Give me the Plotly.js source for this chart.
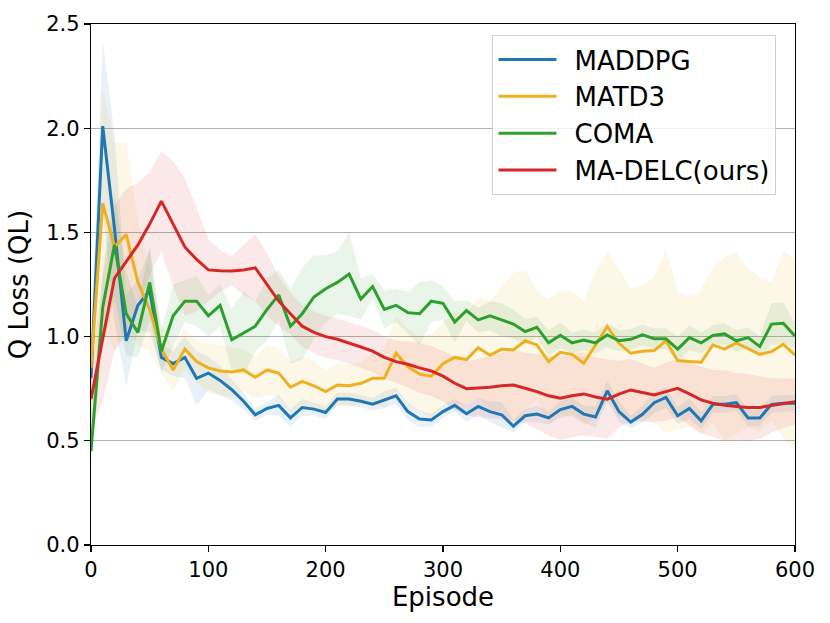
<!DOCTYPE html>
<html>
<head>
<meta charset="utf-8">
<script src="https://cdn.plot.ly/plotly-3.0.1.min.js"></script>
<style>html,body{margin:0;padding:0;background:#fff;} #chart{width:830px;height:623px;}</style>
</head>
<body>
<div id="chart"></div>
<script>
// Episodes (every 10)
const episodes = [0,10,20,30,40,50,60,70,80,90,100,110,120,130,140,150,160,170,180,190,200,210,220,230,240,250,260,270,280,290,300,310,320,330,340,350,360,370,380,390,400,410,420,430,440,450,460,470,480,490,500,510,520,530,540,550,560,570,580,590,600];

const seriesNames = ["MADDPG", "MATD3", "COMA", "MA-DELC(ours)"];

const maddpgMean = [0.80,2.01,1.52,0.98,1.15,1.22,0.90,0.87,0.90,0.80,0.825,0.79,0.745,0.69,0.625,0.655,0.67,0.61,0.66,0.652,0.636,0.70,0.70,0.69,0.676,0.697,0.716,0.64,0.605,0.60,0.64,0.67,0.63,0.665,0.64,0.625,0.57,0.62,0.628,0.61,0.65,0.665,0.628,0.614,0.74,0.64,0.59,0.627,0.683,0.708,0.62,0.655,0.596,0.675,0.675,0.683,0.61,0.61,0.675,0.68,0.68];
const maddpgStd = [0.10,0.41,0.45,0.22,0.12,0.20,0.06,0.06,0.10,0.13,0.08,0.07,0.05,0.04,0.03,0.03,0.05,0.04,0.04,0.03,0.03,0.03,0.03,0.03,0.03,0.04,0.04,0.04,0.04,0.03,0.03,0.03,0.04,0.04,0.05,0.06,0.03,0.03,0.04,0.03,0.04,0.04,0.04,0.05,0.05,0.05,0.03,0.04,0.05,0.05,0.04,0.05,0.04,0.04,0.04,0.04,0.04,0.04,0.04,0.04,0.04];

const matd3Mean = [0.85,1.64,1.43,1.49,1.26,1.13,0.94,0.84,0.94,0.88,0.85,0.835,0.83,0.84,0.805,0.84,0.825,0.757,0.785,0.764,0.736,0.768,0.764,0.776,0.80,0.80,0.92,0.856,0.82,0.81,0.87,0.90,0.89,0.947,0.91,0.94,0.936,0.98,0.96,0.88,0.925,0.915,0.872,0.963,1.048,0.968,0.92,0.93,0.933,0.98,0.885,0.88,0.877,0.96,0.94,0.97,0.944,0.915,0.928,0.963,0.912];
const matd3Std = [0.30,0.55,0.50,0.44,0.30,0.20,0.12,0.10,0.10,0.10,0.12,0.12,0.12,0.10,0.10,0.12,0.12,0.12,0.12,0.12,0.10,0.10,0.10,0.10,0.12,0.14,0.18,0.18,0.18,0.20,0.20,0.22,0.22,0.24,0.26,0.30,0.37,0.34,0.26,0.30,0.30,0.30,0.30,0.35,0.36,0.36,0.31,0.32,0.35,0.44,0.33,0.31,0.35,0.37,0.44,0.44,0.38,0.37,0.33,0.45,0.46];

const comaMean = [0.45,1.14,1.44,1.11,1.02,1.26,0.93,1.10,1.17,1.17,1.10,1.15,0.985,1.016,1.05,1.13,1.20,1.05,1.11,1.19,1.23,1.26,1.30,1.18,1.24,1.13,1.15,1.115,1.11,1.17,1.16,1.07,1.125,1.08,1.10,1.08,1.06,1.024,1.045,0.97,1.006,0.97,0.984,0.97,1.008,0.98,0.987,1.008,0.99,0.99,0.94,0.995,0.97,1.005,1.013,0.98,0.995,0.952,1.06,1.064,1.003];
const comaStd = [0.05,0.20,0.25,0.20,0.12,0.18,0.10,0.15,0.10,0.12,0.10,0.10,0.15,0.20,0.12,0.15,0.12,0.18,0.22,0.20,0.16,0.15,0.20,0.10,0.06,0.09,0.08,0.10,0.15,0.10,0.08,0.10,0.05,0.06,0.07,0.08,0.07,0.06,0.05,0.06,0.06,0.05,0.05,0.05,0.06,0.05,0.05,0.05,0.05,0.05,0.06,0.06,0.05,0.05,0.05,0.05,0.05,0.05,0.10,0.10,0.06];

const madelcMean = [0.70,0.99,1.28,1.36,1.44,1.54,1.65,1.54,1.43,1.37,1.32,1.316,1.315,1.32,1.33,1.25,1.17,1.11,1.05,1.02,1.00,0.987,0.97,0.95,0.93,0.90,0.88,0.867,0.85,0.835,0.81,0.776,0.75,0.752,0.757,0.764,0.768,0.752,0.736,0.716,0.704,0.716,0.725,0.71,0.70,0.724,0.744,0.732,0.72,0.736,0.752,0.725,0.696,0.68,0.67,0.665,0.66,0.66,0.67,0.68,0.688];
const madelcStd = [0.15,0.30,0.35,0.35,0.30,0.25,0.24,0.30,0.33,0.25,0.15,0.10,0.07,0.12,0.16,0.15,0.12,0.10,0.10,0.10,0.10,0.10,0.10,0.10,0.10,0.10,0.10,0.11,0.12,0.12,0.12,0.13,0.13,0.14,0.15,0.16,0.17,0.17,0.18,0.19,0.20,0.20,0.20,0.19,0.19,0.16,0.15,0.14,0.13,0.14,0.14,0.15,0.16,0.16,0.17,0.16,0.16,0.15,0.13,0.12,0.11];

const xTicks = [0,100,200,300,400,500,600];
const yTicks = [0.0,0.5,1.0,1.5,2.0,2.5];

const means = [maddpgMean, matd3Mean, comaMean, madelcMean];
const stds = [maddpgStd, matd3Std, comaStd, madelcStd];
const lineColors = ["#1f77b4", "#EDB120", "#2ca02c", "#d62728"];
const fillColors = ["rgba(31,119,180,0.1)", "rgba(237,177,32,0.1)", "rgba(44,160,44,0.1)", "rgba(214,39,40,0.1)"];

const traces = [];
for (let i = 0; i < 4; i++) {
  const lo = means[i].map((m, k) => m - stds[i][k]);
  const hi = means[i].map((m, k) => m + stds[i][k]);
  traces.push({x: episodes, y: lo, type: "scatter", mode: "lines", line: {width: 0, color: fillColors[i]}, showlegend: false, hoverinfo: "skip"});
  traces.push({x: episodes, y: hi, type: "scatter", mode: "lines", line: {width: 0, color: fillColors[i]}, fill: "tonexty", fillcolor: fillColors[i], showlegend: false, hoverinfo: "skip"});
}
for (let i = 0; i < 4; i++) {
  traces.push({x: episodes, y: means[i], type: "scatter", mode: "lines", name: "\u2002" + seriesNames[i], legendgroup: "g" + i, line: {color: lineColors[i], width: 3}});
}

const layout = {
  width: 830, height: 623,
  margin: {l: 91, r: 35, t: 24, b: 78},
  paper_bgcolor: "#fff", plot_bgcolor: "#fff",
  font: {family: "DejaVu Sans", color: "#000"},
  xaxis: {
    range: [0, 600], tickvals: xTicks, ticktext: xTicks.map(String),
    showgrid: false, zeroline: false,
    showline: true, mirror: true, linecolor: "#000", linewidth: 1.2,
    ticks: "outside", ticklen: 6, tickwidth: 1.2, tickcolor: "#000",
    tickfont: {size: 21, family: "DejaVu Sans"},
    title: {text: "Episode", font: {size: 26, family: "DejaVu Sans"}, standoff: 6}
  },
  yaxis: {
    range: [0, 2.5], tickvals: yTicks, ticktext: yTicks.map(v => v.toFixed(1)),
    showgrid: true, gridcolor: "#b0b0b0", gridwidth: 1.2, zeroline: false,
    showline: true, mirror: true, linecolor: "#000", linewidth: 1.2,
    ticks: "outside", ticklen: 6, tickwidth: 1.2, tickcolor: "#000",
    tickfont: {size: 21, family: "DejaVu Sans"},
    title: {text: "Q Loss (QL)", font: {size: 26, family: "DejaVu Sans"}, standoff: 10}
  },
  legend: {
    x: 0.57, y: 0.979, xanchor: "left", yanchor: "top",
    bgcolor: "rgba(255,255,255,0.8)", bordercolor: "#d0d0d0", borderwidth: 1.2,
    font: {size: 26, family: "DejaVu Sans"},
    tracegroupgap: 0, itemwidth: 58
  },
  showlegend: true
};

Plotly.newPlot("chart", traces, layout, {displayModeBar: false, staticPlot: true});
</script>
</body>
</html>
